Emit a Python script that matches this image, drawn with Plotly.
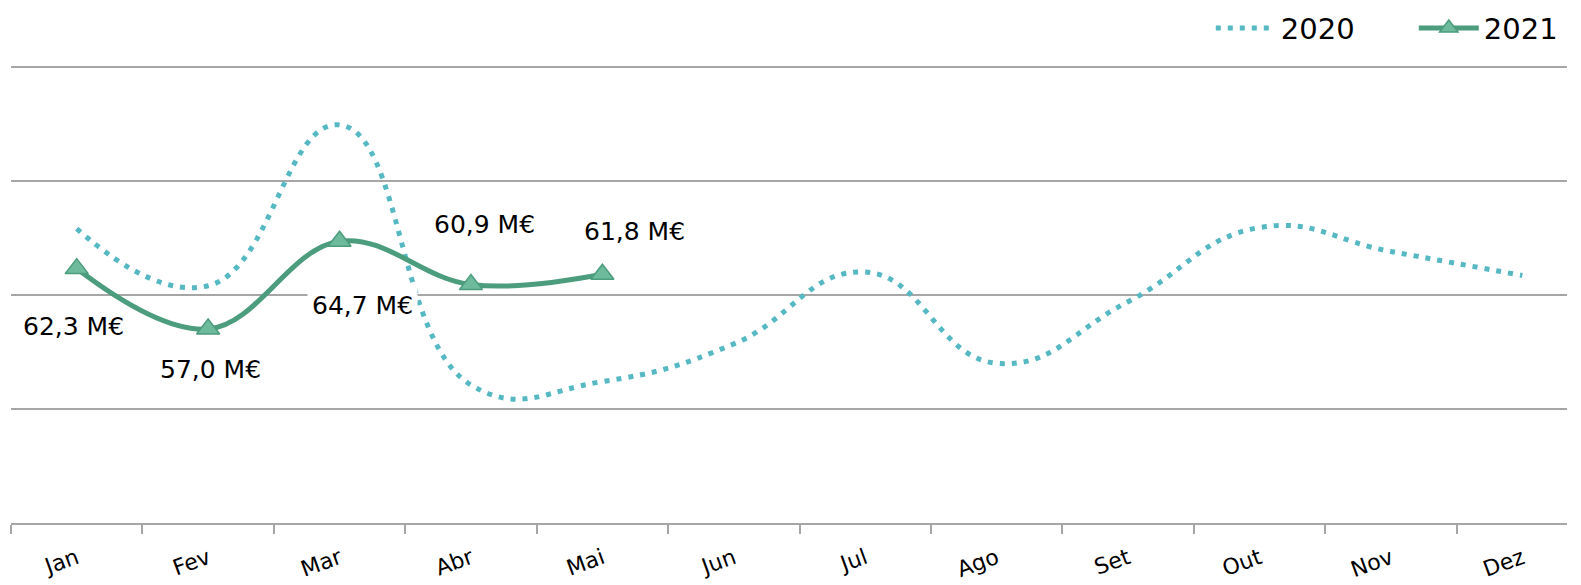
import plotly.graph_objects as go

months = ["Jan", "Fev", "Mar", "Abr", "Mai", "Jun", "Jul", "Ago", "Set", "Out", "Nov", "Dez"]
v2020 = [65.8, 60.8, 74.9, 52.1, 52.4, 55.7, 62.0, 54.0, 59.4, 65.9, 63.8, 61.7]
v2021 = [62.3, 57.0, 64.7, 60.9, 61.8]
label_shift = [(-3, -58), (2, -40), (23, -64), (14, 60), (32, 43)]

C2020 = "#55B8C2"
C2021 = "#4C9C7E"
FONT = "DejaVu Sans"

fig = go.Figure()
fig.add_trace(go.Scatter(
    x=months, y=v2020, name="2020", mode="lines",
    line=dict(color=C2020, width=5, dash="5px,7px", shape="spline", smoothing=1.3),
))
fig.add_trace(go.Scatter(
    x=months[:len(v2021)], y=v2021, name="2021", mode="lines+markers",
    line=dict(color=C2021, width=5, shape="spline", smoothing=1.1),
    marker=dict(symbol="triangle-up", size=20, color="#6DBB9C", line=dict(color=C2021, width=1.5)),
))

for i, v in enumerate(v2021):
    dx, dy = label_shift[i]
    fig.add_annotation(
        x=months[i], y=v, text=f"{v:.1f}".replace(".", ",") + " M€",
        showarrow=False, xshift=dx, yshift=dy, bgcolor="white", borderpad=4,
        font=dict(family=FONT, size=25, color="#000000"),
    )

fig.update_layout(
    width=1581, height=585,
    margin=dict(l=11, r=14, t=61, b=62, autoexpand=False),
    paper_bgcolor="white", plot_bgcolor="white",
    font=dict(family=FONT, color="#000000"),
    showlegend=True,
    legend=dict(orientation="h", x=1.032, xanchor="right", y=1.071, yanchor="middle",
                font=dict(family=FONT, size=29), itemwidth=60, entrywidth=128,
                bgcolor="rgba(0,0,0,0)"),
    xaxis=dict(
        type="category", range=[-0.5, 11.34], tickson="boundaries",
        showgrid=False, showline=True, linecolor="#A6A6A6", linewidth=2,
        ticks="outside", ticklen=9, tickwidth=2, tickcolor="#A6A6A6",
        tickangle=-20, tickfont=dict(family=FONT, size=22, color="#000000"),
        ticklabelstandoff=12,
    ),
    yaxis=dict(
        range=[40, 80.5], dtick=10, showgrid=True, gridcolor="#A6A6A6", gridwidth=2,
        showticklabels=False, zeroline=False, showline=False, ticks="",
    ),
)

fig.write_html("out.html", config={"displayModeBar": False},
               post_script="document.body.style.margin='0';document.body.style.overflow='hidden';")
